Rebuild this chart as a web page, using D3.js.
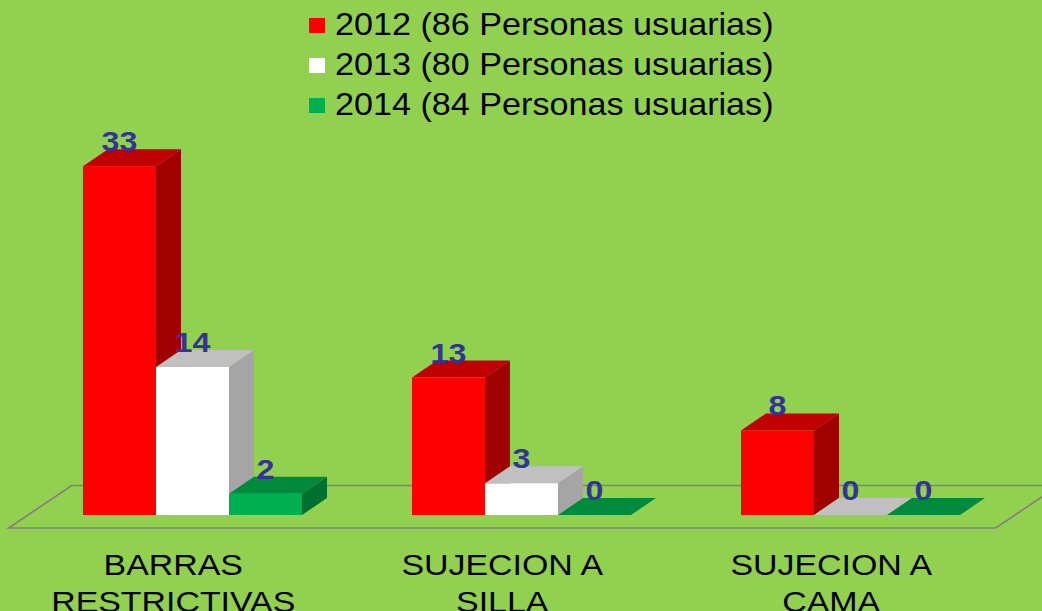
<!DOCTYPE html>
<html lang="es">
<head>
  <meta charset="utf-8">
  <script src="https://d3js.org/d3.v7.min.js"></script>
  <style>
    body { margin: 0; background: #92D050; }
    text { font-family: "Liberation Sans", Arial, sans-serif; }
  </style>
</head>
<body>
<div id="chart"></div>
<script>

// data
var categories = [["BARRAS", "RESTRICTIVAS"], ["SUJECION A", "SILLA"], ["SUJECION A", "CAMA"]];
var seriesNames = ["2012 (86 Personas usuarias)", "2013 (80 Personas usuarias)", "2014 (84 Personas usuarias)"];
var values2012 = [33, 13, 8];
var values2013 = [14, 3, 0];
var values2014 = [2, 0, 0];
var allValues = [values2012, values2013, values2014];

// face colours per series: front, top, side
var colors = [
  {front: "#FF0000", top: "#C00000", side: "#A00000"},
  {front: "#FFFFFF", top: "#C0C0C0", side: "#A5A5A5"},
  {front: "#00B050", top: "#008A3E", side: "#007030"}
];

var width = 1042, height = 611;
var base = 515;          // front bottom of bars
var dx = 25, dy = 17;    // bar depth
var stretch = 1.13;      // horizontal stretch of text in the original

var svg = d3.select("#chart")
  .append("svg")
    .attr("width", width)
    .attr("height", height)
    .style("display", "block");

svg.append("rect")
  .attr("width", width)
  .attr("height", height)
  .attr("fill", "#92D050");

var x = d3.scaleBand()
  .domain(d3.range(categories.length))
  .range([28, 1015]);

var groupW = 219;
var xs = d3.scaleBand()
  .domain(d3.range(seriesNames.length))
  .range([0, groupW]);

var y = d3.scaleLinear()
  .domain([0, 35])
  .range([0, 370]);

// floor
var floorFront = base + 13, floorBack = floorFront - 42.5;
var shiftF = 13 * 63 / 42.5;
var x0 = x.range()[0] - shiftF, x1 = x.range()[1] - shiftF;
svg.append("path")
  .attr("d", "M" + x0 + "," + floorFront + "L" + x1 + "," + floorFront +
    "L" + (x1 + 63) + "," + floorBack + "L" + (x0 + 63) + "," + floorBack + "Z")
  .attr("fill", "none")
  .attr("stroke", "#808080")
  .attr("stroke-width", 1.6);

// bars
var bars = [];
categories.forEach(function(c, i) {
  allValues.forEach(function(vals, s) {
    bars.push({cat: i, s: s, value: vals[i]});
  });
});

function left(d) { return x(d.cat) + x.bandwidth() / 2 - groupW / 2 + xs(d.s); }

var g = svg.selectAll(".bar")
  .data(bars)
  .enter().append("g")
    .attr("class", "bar");

g.append("path") // side
  .attr("d", function(d) {
    var l = left(d) + xs.bandwidth(), h = y(d.value);
    return "M" + l + "," + base + "L" + (l + dx) + "," + (base - dy) +
      "L" + (l + dx) + "," + (base - h - dy) + "L" + l + "," + (base - h) + "Z";
  })
  .attr("fill", function(d) { return colors[d.s].side; });

g.append("path") // top
  .attr("d", function(d) {
    var l = left(d), r = l + xs.bandwidth(), t = base - y(d.value);
    return "M" + l + "," + t + "L" + r + "," + t + "L" + (r + dx) + "," + (t - dy) +
      "L" + (l + dx) + "," + (t - dy) + "Z";
  })
  .attr("fill", function(d) { return colors[d.s].top; });

g.append("rect") // front
  .attr("x", function(d) { return left(d); })
  .attr("y", function(d) { return base - y(d.value); })
  .attr("width", xs.bandwidth())
  .attr("height", function(d) { return y(d.value); })
  .attr("fill", function(d) { return colors[d.s].front; });

// value labels
svg.selectAll(".val")
  .data(bars)
  .enter().append("text")
    .attr("class", "val")
    .attr("transform", function(d) {
      return "translate(" + (left(d) + xs.bandwidth() / 2) + "," + (base - y(d.value) - dy + 2) + ") scale(1.15,1)";
    })
    .attr("text-anchor", "middle")
    .attr("font-size", 28)
    .attr("font-weight", "bold")
    .attr("fill", "#333399")
    .text(function(d) { return d.value; });

// category labels
var cl = svg.selectAll(".cat")
  .data(categories)
  .enter().append("text")
    .attr("class", "cat")
    .attr("text-anchor", "middle")
    .attr("font-size", 30)
    .attr("fill", "#000")
    .attr("transform", function(d, i) {
      return "translate(" + (x(i) + x.bandwidth() / 2 - shiftF) + ",575) scale(" + stretch + ",1)";
    });
cl.selectAll("tspan")
  .data(function(d) { return d; })
  .enter().append("tspan")
    .attr("x", 0)
    .attr("dy", function(d, j) { return j === 0 ? 0 : 37; })
    .text(function(d) { return d; });

// legend
var lg = svg.selectAll(".legend")
  .data(seriesNames)
  .enter().append("g")
    .attr("class", "legend")
    .attr("transform", function(d, i) { return "translate(309," + (18 + i * 40) + ")"; });
lg.append("rect")
  .attr("width", 16)
  .attr("height", 15)
  .attr("fill", function(d, i) { return colors[i].front; });
lg.append("text")
  .attr("transform", "translate(26,17) scale(1.12,1)")
  .attr("font-size", 30.5)
  .attr("fill", "#000")
  .text(function(d) { return d; });

</script>
</body>
</html>
